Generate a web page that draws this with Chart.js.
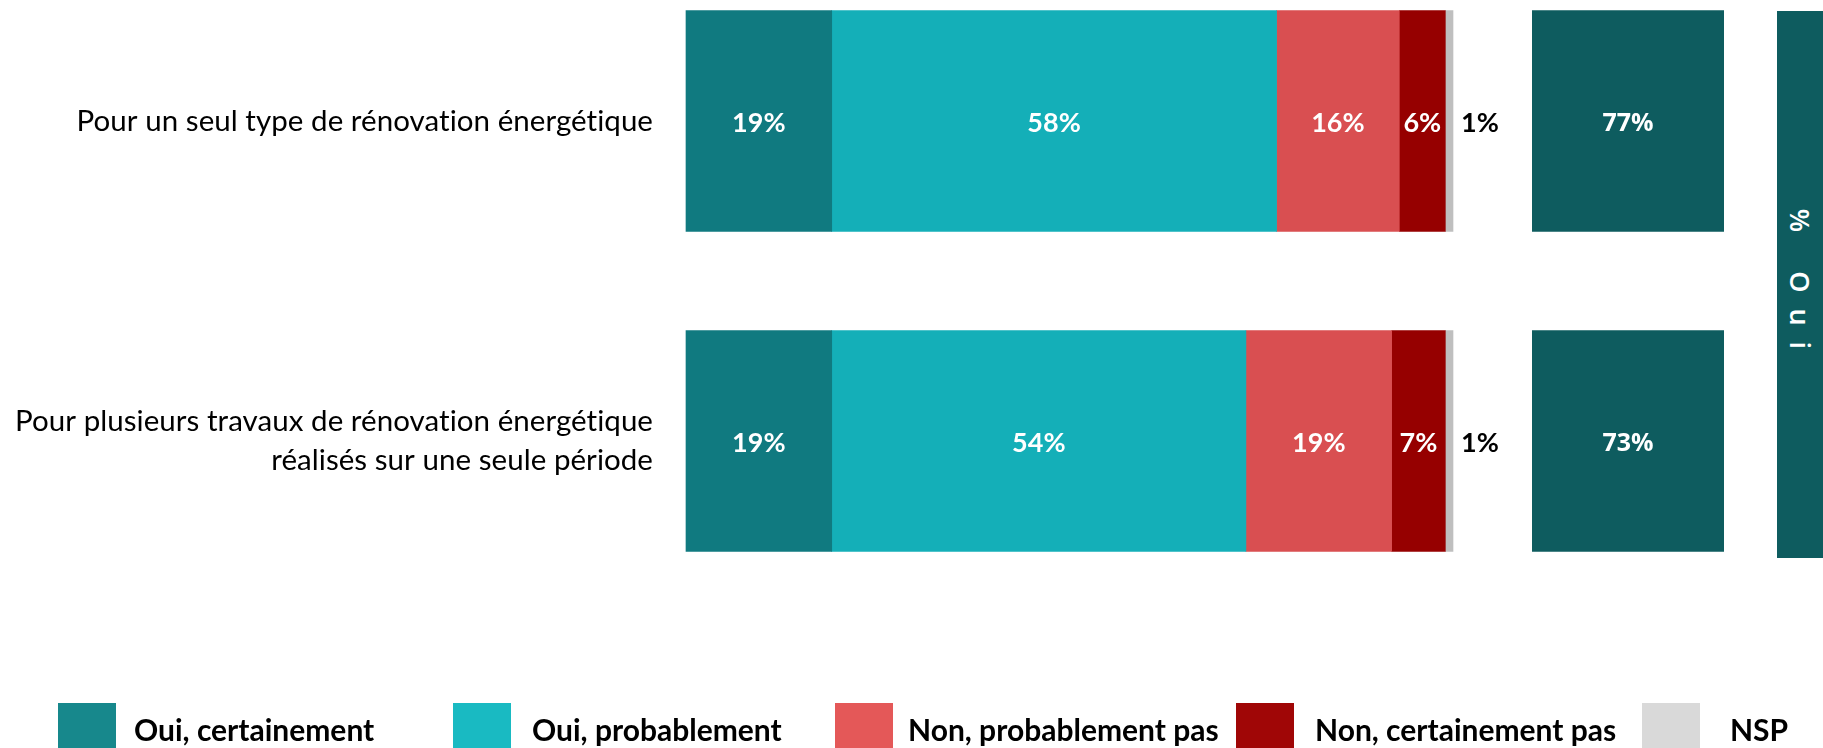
<!DOCTYPE html>
<html>
<head>
<meta charset="utf-8">
<script src="https://cdn.jsdelivr.net/npm/chart.js@4/dist/chart.umd.min.js"></script>
<style>
  html, body { margin: 0; padding: 0; background: #fff; }
  #wrap { position: relative; width: 1823px; height: 748px; overflow: hidden; }
  #main { position: absolute; left: 0; top: 0; }
  #totals { position: absolute; left: 1532px; top: 0; }
  #banner { position: absolute; left: 1777px; top: 11px; width: 46px; height: 547px; background: #0E5C5F; }
  #banner span {
    position: absolute; left: 50%; top: 49%;
    transform: translate(-50%, -50%) rotate(90deg);
    color: #fff; font: 600 27px 'Open Sans', sans-serif; letter-spacing: 16px;
    white-space: nowrap; padding-left: 16px;
  }
  .leg-box { position: absolute; top: 703px; width: 58px; height: 60px; }
  .leg-text {
    position: absolute; top: 711px; line-height: 36px;
    font: 700 30px 'Lato', sans-serif; color: #000; white-space: nowrap;
    font-variant-ligatures: none;
  }
</style>
</head>
<body>
<div id="wrap">
  <canvas id="main" width="1823" height="748"></canvas>
  <canvas id="totals" width="192" height="748"></canvas>
  <div id="banner"><span>% Oui</span></div>
  <div id="legend"></div>
</div>
<script>
// Survey answers, in percent
const categories = [
  'Pour un seul type de rénovation énergétique',
  ['Pour plusieurs travaux de rénovation énergétique', 'réalisés sur une seule période']
];
const seriesNames = ['Oui, certainement', 'Oui, probablement', 'Non, probablement pas', 'Non, certainement pas', 'NSP'];
const ouiCertainement    = [19, 19];
const ouiProbablement    = [58, 54];
const nonProbablementPas = [16, 19];
const nonCertainementPas = [6, 7];
const nsp                = [1, 1];
const totalOui           = [77, 73];

// Styling
const barColors    = ['#107A80', '#14AFB8', '#D94F51', '#960000', '#BFBFBF'];
const legendColors = ['#17888C', '#19BAC2', '#E45858', '#A00606', '#D9D9D9'];
const totalColor   = '#0E5C5F';
const legendBoxLeft  = [58, 453, 835, 1236, 1642];
const legendTextLeft = [134, 532, 908, 1315, 1730];

const seriesValues = [ouiCertainement, ouiProbablement, nonProbablementPas, nonCertainementPas, nsp];

// Plain letter forms (no "ti"/"fi" ligatures) for the axis labels
const noLigatures = {
  id: 'noLigatures',
  beforeDraw(chart) { chart.ctx.letterSpacing = '0.05px'; }
};

// Percent labels on each segment; the thin last segment gets its label outside
const segmentLabels = {
  id: 'segmentLabels',
  afterDatasetsDraw(chart) {
    const ctx = chart.ctx;
    chart.data.datasets.forEach((ds, i) => {
      const meta = chart.getDatasetMeta(i);
      meta.data.forEach((bar, j) => {
        const v = ds.data[j];
        ctx.save();
        ctx.font = '700 27px Lato';
        ctx.textBaseline = 'middle';
        if (ds.labelOutside) {
          ctx.fillStyle = '#000';
          ctx.textAlign = 'left';
          ctx.fillText(v + '%', bar.x + 8, bar.y + 2);
        } else {
          ctx.fillStyle = '#fff';
          ctx.textAlign = 'center';
          ctx.fillText(v + '%', (bar.x + bar.base) / 2, bar.y + 2);
        }
        ctx.restore();
      });
    });
  }
};

// Total labels centred in the column
const totalLabels = {
  id: 'totalLabels',
  afterDatasetsDraw(chart) {
    const ctx = chart.ctx;
    const area = chart.chartArea;
    const meta = chart.getDatasetMeta(0);
    meta.data.forEach((bar, j) => {
      ctx.save();
      ctx.font = '700 25px "Open Sans"';
      ctx.fillStyle = '#fff';
      ctx.textAlign = 'center';
      ctx.textBaseline = 'middle';
      ctx.fillText(chart.data.datasets[0].data[j] + '%', (area.left + area.right) / 2, bar.y + 3);
      ctx.restore();
    });
  }
};

function draw() {
  new Chart(document.getElementById('main'), {
    type: 'bar',
    data: {
      labels: categories,
      datasets: seriesNames.map((name, i) => ({
        label: name,
        data: seriesValues[i],
        backgroundColor: barColors[i],
        borderWidth: 0,
        barThickness: 221,
        clip: false,
        labelOutside: i === seriesNames.length - 1
      }))
    },
    options: {
      indexAxis: 'y',
      responsive: false,
      animation: false,
      layout: { padding: { top: 121, bottom: 307, left: 0, right: 370 } },
      plugins: { legend: { display: false }, tooltip: { enabled: false } },
      scales: {
        x: { stacked: true, min: 0, max: 100, display: false },
        y: {
          stacked: true,
          offset: false,
          border: { display: false },
          grid: { display: false, drawTicks: false },
          ticks: {
            padding: 33,
            color: '#000',
            font: { family: 'Lato', size: 29.5, lineHeight: 1.32 }
          },
          afterFit(scale) { scale.width = 686; }
        }
      }
    },
    plugins: [noLigatures, segmentLabels]
  });

  // "% Oui" column: each cell is a bar of the total, cut at the column edge
  new Chart(document.getElementById('totals'), {
    type: 'bar',
    data: {
      labels: categories,
      datasets: [{
        label: '% Oui',
        data: totalOui,
        backgroundColor: totalColor,
        borderWidth: 0,
        barThickness: 221,
        clip: { left: 0, right: 0, top: 200, bottom: 200 }
      }]
    },
    options: {
      indexAxis: 'y',
      responsive: false,
      animation: false,
      layout: { padding: { top: 121, bottom: 307, left: 0, right: 0 } },
      plugins: { legend: { display: false }, tooltip: { enabled: false } },
      scales: {
        x: { min: 0, max: Math.min(...totalOui), display: false },
        y: { offset: false, display: false }
      }
    },
    plugins: [totalLabels]
  });

  // Legend
  const legend = document.getElementById('legend');
  seriesNames.forEach((name, i) => {
    const box = document.createElement('div');
    box.className = 'leg-box';
    box.style.left = legendBoxLeft[i] + 'px';
    box.style.background = legendColors[i];
    legend.appendChild(box);
    const txt = document.createElement('div');
    txt.className = 'leg-text';
    txt.style.left = legendTextLeft[i] + 'px';
    txt.textContent = name;
    legend.appendChild(txt);
  });
}

Promise.all([
  document.fonts.load('30px Lato'),
  document.fonts.load('700 27px Lato'),
  document.fonts.load('700 25px "Open Sans"'),
  document.fonts.load('600 27px "Open Sans"')
]).then(draw, draw);
</script>
</body>
</html>
